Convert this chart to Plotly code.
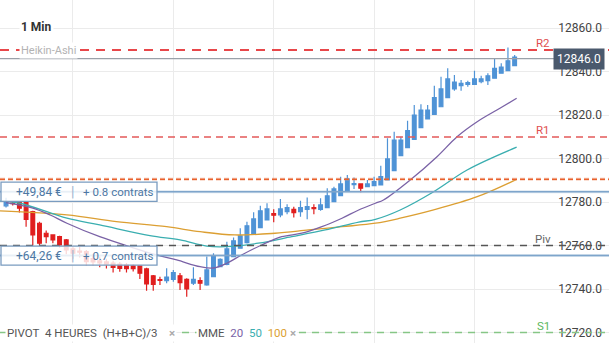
import plotly.graph_objects as go

# ---------------- data ----------------
idx = list(range(77))
opens = [12778.3, 12779.6, 12780.2, 12779.8, 12775.6, 12770.3, 12765.7, 12764.9, 12764.1, 12762.6,
         12758.5, 12757.5, 12757.3, 12754.0, 12753.0, 12752.5, 12752.0, 12751.5, 12751.0, 12750.7,
         12750.7, 12749.3, 12746.1, 12744.4, 12743.9, 12744.5, 12746.1, 12744.5, 12742.7, 12743.9,
         12741.9, 12745.7, 12750.3, 12751.4, 12754.9, 12758.8, 12761.4, 12765.2, 12768.3, 12771.8,
         12774.7, 12774.1, 12775.6, 12776.7, 12775.6, 12776.7, 12777.5, 12776.7, 12777.5, 12780.2,
         12783.0, 12785.2, 12788.0, 12788.4, 12787.1, 12787.6, 12787.9, 12790.2, 12794.5, 12801.4,
         12805.1, 12808.9, 12814.3, 12818.3, 12820.4, 12823.9, 12828.1, 12832.1, 12833.6, 12834.2,
         12834.2, 12835.4, 12835.9, 12837.0, 12839.3, 12840.5, 12842.8]
highs = [12782.0, 12780.3, 12780.5, 12780.0, 12776.0, 12771.0, 12766.9, 12765.2, 12764.5, 12763.0,
         12759.5, 12759.5, 12758.0, 12756.0, 12755.0, 12754.0, 12753.0, 12752.5, 12752.0, 12751.5,
         12751.0, 12749.8, 12746.5, 12745.7, 12749.6, 12748.8, 12747.4, 12745.0, 12750.0, 12745.5,
         12755.0, 12756.5, 12754.2, 12761.8, 12763.7, 12768.0, 12771.0, 12775.4, 12778.3, 12779.5,
         12776.7, 12781.5, 12779.0, 12777.9, 12780.7, 12782.1, 12779.0, 12781.8, 12786.4, 12787.1,
         12791.7, 12792.5, 12791.3, 12788.6, 12790.2, 12791.7, 12796.7, 12809.4, 12812.4, 12810.1,
         12817.4, 12824.7, 12825.0, 12824.7, 12833.6, 12837.7, 12841.6, 12838.5, 12836.2, 12835.8,
         12840.4, 12838.1, 12839.3, 12845.9, 12843.9, 12851.1, 12847.7]
lows = [12777.5, 12778.5, 12775.2, 12768.7, 12760.0, 12760.3, 12761.1, 12761.1, 12759.0, 12756.0,
        12754.0, 12754.5, 12751.0, 12751.0, 12750.0, 12749.5, 12747.6, 12748.0, 12747.6, 12748.1,
        12744.7, 12739.2, 12739.2, 12741.9, 12742.7, 12743.4, 12739.6, 12736.5, 12741.9, 12739.6,
        12741.5, 12745.7, 12750.3, 12751.0, 12754.9, 12758.8, 12761.0, 12765.0, 12768.0, 12771.8,
        12770.8, 12773.1, 12774.4, 12772.9, 12773.3, 12772.1, 12774.4, 12776.0, 12777.5, 12780.0,
        12783.0, 12785.0, 12786.1, 12784.6, 12786.8, 12787.6, 12787.9, 12790.0, 12794.5, 12801.4,
        12805.0, 12808.9, 12814.0, 12818.0, 12820.4, 12823.9, 12828.0, 12831.3, 12831.3, 12833.1,
        12834.0, 12834.7, 12833.9, 12837.0, 12839.3, 12840.5, 12842.8]
closes = [12780.3, 12779.3, 12777.2, 12772.1, 12764.9, 12761.1, 12764.1, 12762.6, 12760.3, 12758.0,
          12756.5, 12757.0, 12752.6, 12752.5, 12752.0, 12751.5, 12750.0, 12749.5, 12749.4, 12749.4,
          12747.3, 12742.4, 12742.2, 12744.0, 12745.5, 12747.6, 12743.0, 12740.1, 12744.5, 12742.7,
          12748.8, 12755.3, 12753.7, 12758.5, 12762.2, 12764.5, 12769.1, 12772.3, 12776.0, 12776.9,
          12774.0, 12776.9, 12777.5, 12775.2, 12777.5, 12777.9, 12777.0, 12778.7, 12782.9, 12786.1,
          12788.4, 12790.7, 12788.5, 12786.4, 12788.4, 12789.4, 12791.7, 12799.9, 12808.6, 12808.6,
          12812.9, 12820.1, 12822.4, 12822.4, 12828.1, 12832.1, 12836.7, 12835.2, 12834.7, 12835.0,
          12836.7, 12836.7, 12838.1, 12841.6, 12842.1, 12845.0, 12846.7]

# moving averages (MME)
mme20_x = [0, 4, 6.6, 9.1, 14, 19, 22.5, 25.5, 29, 31, 33, 35.2, 38.2, 41.2, 44.2, 47.2, 50.2,
           52.7, 55.2, 56.4, 60.4, 64.4, 67.4, 70.4, 73.8, 76.3]
mme20_y = [12779.8, 12777.3, 12774.1, 12770.3, 12764.1, 12759.0, 12755.7, 12753.4, 12750.3, 12749.7,
           12751.9, 12755.7, 12760.3, 12764.1, 12765.7, 12768.7, 12772.6, 12776.4, 12779.5, 12781.0,
           12790.2, 12800.9, 12810.1, 12817.0, 12823.2, 12827.8]
mme50_x = [-0.9, 2.1, 9.1, 14, 21.5, 26, 30, 32.7, 37.7, 42.7, 47.7, 52.7, 55.2, 58.9, 63.9, 68.9, 76.3]
mme50_y = [12780.5, 12779.5, 12772.6, 12769.5, 12764.6, 12762.6, 12759.8, 12759.5, 12761.1, 12764.1,
           12767.2, 12770.8, 12772.1, 12776.4, 12784.8, 12794.8, 12805.3]
mme100_x = [-0.9, 9.1, 16.5, 24, 29, 34.2, 40.2, 45.2, 50.2, 55.2, 58.9, 63.9, 70.4, 76.3]
mme100_y = [12776.0, 12774.1, 12771.0, 12768.7, 12766.4, 12764.9, 12765.7, 12767.2, 12768.7, 12770.3,
            12772.6, 12776.4, 12782.5, 12790.5]

R2, R1, PIV, S1 = 12850.0, 12810.0, 12760.0, 12720.0
ORDER_LEVEL = 12790.5
POS1, POS2 = 12784.8, 12755.4
LAST = 12846.0
pos_labels = [("+49,84 €", "+ 0.8 contrats", POS1), ("+64,26 €", "+ 0.7 contrats", POS2)]
y_ticks = [12720, 12740, 12760, 12780, 12800, 12820, 12840, 12860]
x_grid = [10, 25, 40, 55, 70, 85]

FONT = "Roboto"

fig = go.Figure()

for xs, ys, col in [(mme100_x, mme100_y, "#dc9f32"), (mme50_x, mme50_y, "#3aaeb0"), (mme20_x, mme20_y, "#7a62a6")]:
    fig.add_trace(go.Scatter(x=xs, y=ys, mode="lines", line=dict(color=col, width=1.3, shape="spline"),
                             hoverinfo="skip"))

fig.add_trace(go.Candlestick(
    x=idx, open=opens, high=highs, low=lows, close=closes,
    increasing=dict(line=dict(color="#4f93d6", width=1.2), fillcolor="#4f93d6"),
    decreasing=dict(line=dict(color="#e01e1e", width=1.2), fillcolor="#e01e1e"),
    whiskerwidth=0,
))

shapes = []
def hline(y, color, width, dash="solid", x0=0, x1=1, layer="above"):
    shapes.append(dict(type="line", xref="paper", x0=x0, x1=x1, yref="y", y0=y, y1=y,
                       line=dict(color=color, width=width, dash=dash), layer=layer))

hline(LAST, "#9aa1a9", 1.3, x1=555 / 609)
hline(R2, "#e8474a", 2.2, "9px,7px")
hline(R1, "#e35a5a", 1.5, "7px,5px")
hline(ORDER_LEVEL, "rgba(240,150,110,0.3)", 3.5, "5px,3px")
hline(ORDER_LEVEL, "#e8602c", 1.5, "5px,3px")
hline(POS1, "rgba(120,160,200,0.25)", 3)
hline(POS1, "#7ea5cb", 1.5)
hline(POS2, "rgba(120,160,200,0.25)", 3)
hline(POS2, "#7ea5cb", 1.5)
hline(PIV, "#555555", 1.5, "7px,6px")
hline(S1, "#86c686", 1.5, "7px,6px")

# position boxes
box_h = 4.4
for i, (eur, contr, yv) in enumerate(pos_labels):
    shapes.append(dict(type="rect", xref="paper", x0=1 / 609, x1=157 / 609, yref="y",
                       y0=yv - box_h, y1=yv + box_h, fillcolor="rgba(255,255,255,0.82)",
                       line=dict(color="#7a9cc0", width=1.3), layer="above"))

annotations = []
for eur, contr, yv in pos_labels:
    annotations.append(dict(x=64 / 609, xref="paper", y=yv, yref="y", xanchor="right", text=eur,
                            showarrow=False, font=dict(family=FONT, size=12, color="#4d77a3")))
    annotations.append(dict(x=72 / 609, xref="paper", y=yv, yref="y", xanchor="center", text="|",
                            showarrow=False, font=dict(family=FONT, size=14, color="#9cb4cf")))
    annotations.append(dict(x=81 / 609, xref="paper", y=yv, yref="y", xanchor="left", text=contr,
                            showarrow=False, font=dict(family=FONT, size=11.5, color="#4d77a3")))

# level labels
for txt, yv, col in [("R2", R2, "#e05050"), ("R1", R1, "#e05050"), ("Piv", PIV, "#666666"), ("S1", S1, "#5cb85c")]:
    annotations.append(dict(x=543 / 609, xref="paper", xanchor="center", y=yv, yref="y", yshift=7,
                            text=txt, showarrow=False, font=dict(family=FONT, size=11.5, color=col)))

# last price label
annotations.append(dict(x=605 / 609, xref="paper", xanchor="right", y=LAST, yref="y", text="12846.0",
                        showarrow=False, bgcolor="#4a596d", borderpad=3,
                        font=dict(family=FONT, size=12, color="white")))

# top-left titles
annotations.append(dict(x=19 / 609, xref="paper", xanchor="left", y=1 - 27 / 343, yref="paper", yanchor="middle",
                        text="<b>1 Min</b>", showarrow=False, bgcolor="white",
                        font=dict(family=FONT, size=12, color="#333333")))
annotations.append(dict(x=19 / 609, xref="paper", xanchor="left", y=1 - 50 / 343, yref="paper", yanchor="middle",
                        text="Heikin-Ashi", showarrow=False, bgcolor="white",
                        font=dict(family=FONT, size=11, color="#b3b3b3")))

# bottom legend
nb = "\u00a0"
annotations.append(dict(x=5 / 609, xref="paper", xanchor="left", y=S1, yref="y",
                        text=f"PIVOT{nb}{nb}4 HEURES{nb}{nb}(H+B+C)/3{nb}{nb}{nb}{nb}<span style='color:#aaaaaa'><b>×</b></span>",
                        showarrow=False, bgcolor="white", font=dict(family=FONT, size=11.5, color="#555555")))
annotations.append(dict(x=196 / 609, xref="paper", xanchor="left", y=S1, yref="y",
                        text=f"MME{nb}{nb}<span style='color:#7a62a6'>20</span>{nb}{nb}<span style='color:#3aaeb0'>50</span>{nb}{nb}<span style='color:#dc9f32'>100</span>{nb}<span style='color:#aaaaaa'><b>×</b></span>",
                        showarrow=False, bgcolor="white", font=dict(family=FONT, size=11.5, color="#555555")))

fig.update_layout(
    width=609, height=343, margin=dict(l=0, r=0, t=0, b=0),
    plot_bgcolor="white", paper_bgcolor="white", showlegend=False, boxgap=0.2,
    shapes=shapes, annotations=annotations,
    xaxis=dict(range=[-0.9, 90.1], tickvals=x_grid, showticklabels=False, showgrid=True,
               gridcolor="#ebebeb", gridwidth=1, zeroline=False, rangeslider=dict(visible=False),
               showline=False, ticks=""),
    yaxis=dict(range=[12715.2, 12873.0], side="right", ticklabelposition="inside", tickvals=y_ticks,
               tickformat=".1f", showgrid=True, gridcolor="#ebebeb", gridwidth=1, zeroline=False,
               ticks="", ticklabelstandoff=4, tickfont=dict(family=FONT, size=12, color="#444444"),
               showline=False),
)

fig.write_html("out.html")
